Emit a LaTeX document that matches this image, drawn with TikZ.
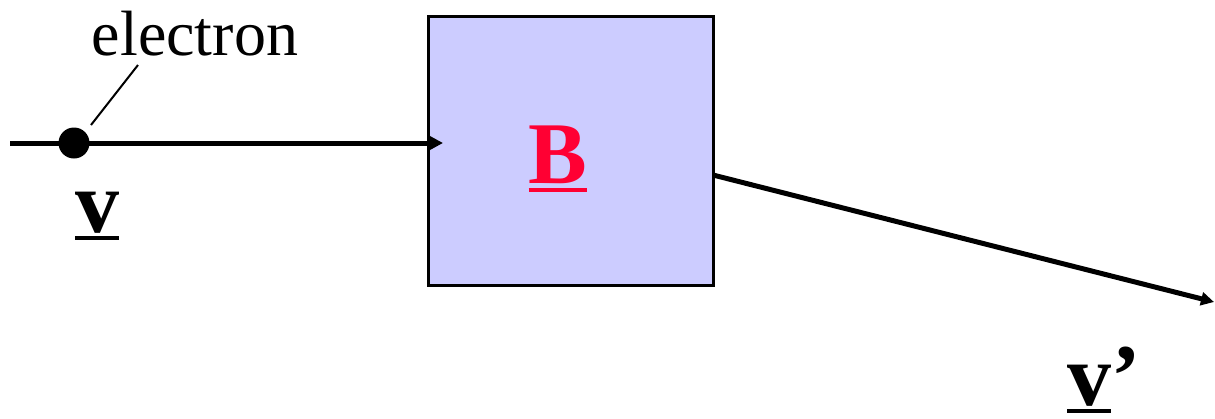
\documentclass[tikz,border=0pt]{standalone}
\usepackage{fontspec}
\setmainfont{Liberation Serif}
\usetikzlibrary{arrows.meta}
\definecolor{boxfill}{HTML}{CCCCFF}
\definecolor{bred}{HTML}{FF0033}
\newcommand\ulv[1]{\setbox0\hbox{#1}\rlap{\rule[-8pt]{\wd0}{4pt}}\box0}
\newcommand\ulB[1]{\setbox0\hbox{#1}\rlap{\rule[-9pt]{\wd0}{4pt}}\box0}
\begin{document}
\begin{tikzpicture}[x=1pt,y=-1pt,
  lbl/.style={inner sep=0pt,anchor=base},
  conn/.style={line width=5pt,-{Triangle[length=13pt,width=13pt]}},
  big/.style={font=\fontsize{88}{90}\selectfont\bfseries}]
\useasboundingbox (0,0) rectangle (1215,418);
\node[draw=black,line width=3pt,fill=boxfill,minimum width=285pt,minimum height=269pt,inner sep=0pt] (box) at (570.5,150.5) {};
\node[lbl,big,text=bred] (B) at (558,183) {\ulB{B}};
\coordinate (start) at (10,143);
\coordinate (tip1) at (443,143);
\coordinate (out) at (713,175);
\coordinate (tip2) at (1214,302);
\draw[conn] (start) -- (tip1);
\draw[conn] (out) -- (tip2);
\node[circle,fill=black,minimum size=31pt,inner sep=0pt] (e) at (74,143) {};
\node[lbl,font=\fontsize{64}{66}\selectfont] (elab) at (195,55) {electron};
\draw[line width=2pt] (91,125) -- (138,65);
\node[lbl,big] (v) at (97,232) {\ulv{v}};
\node[lbl,big,anchor=base west] (vp) at (1067,405) {\ulv{v}’};
\end{tikzpicture}
\end{document}
